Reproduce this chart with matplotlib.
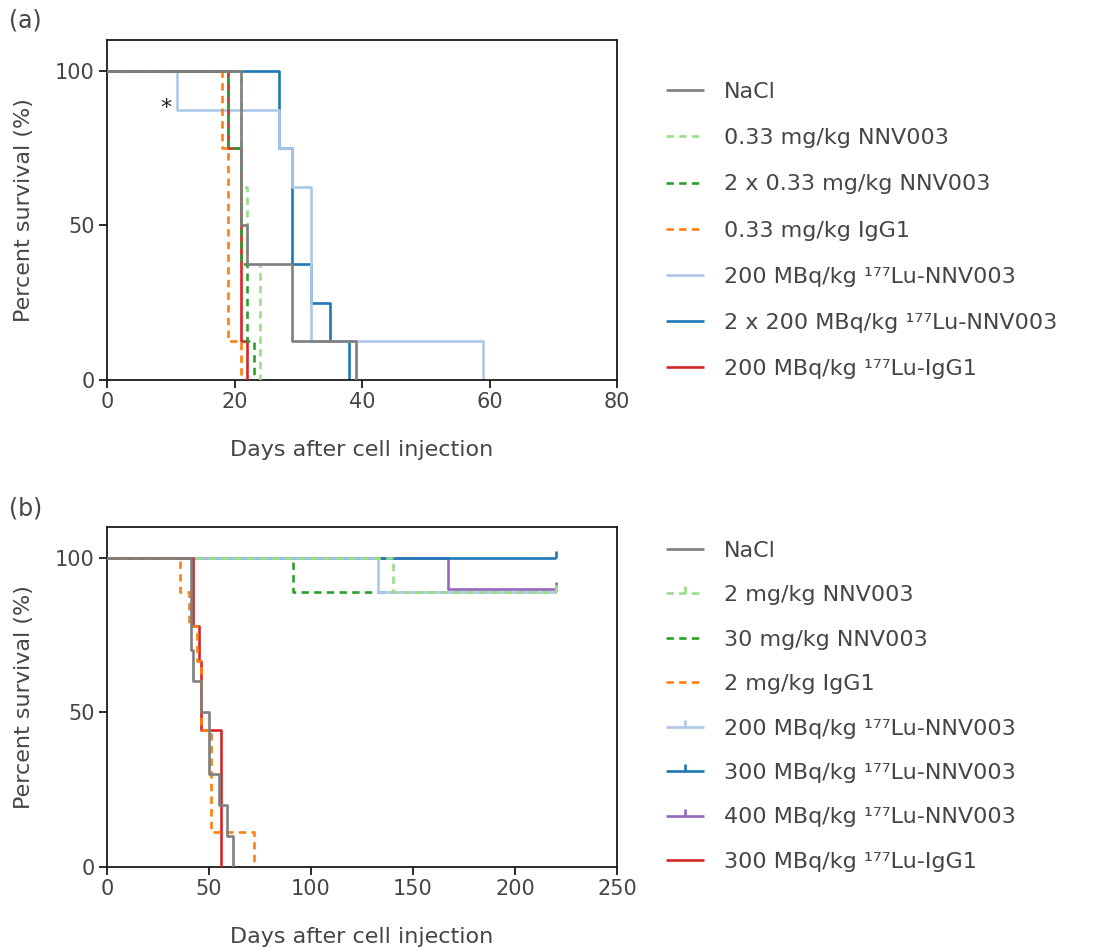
import matplotlib.pyplot as plt

plt.rcParams['font.family'] = ['DejaVu Sans']

TEXT = '#454545'
LU = '\u00b9\u2077\u2077Lu'

# (a) groups: event days and survival (%) after each event
a_labels = ['NaCl', '0.33 mg/kg NNV003', '2 x 0.33 mg/kg NNV003', '0.33 mg/kg IgG1',
            '200 MBq/kg ' + LU + '-NNV003', '2 x 200 MBq/kg ' + LU + '-NNV003',
            '200 MBq/kg ' + LU + '-IgG1']
a_days = [[0, 21, 22, 29, 39],
          [0, 21, 22, 24],
          [0, 19, 21, 22, 23],
          [0, 18, 19, 21],
          [0, 11, 27, 29, 32, 59],
          [0, 27, 29, 32, 35, 38],
          [0, 19, 21, 22]]
a_surv = [[100, 50, 37.5, 12.5, 0],
          [100, 62.5, 37.5, 0],
          [100, 75, 37.5, 12.5, 0],
          [100, 75, 12.5, 0],
          [100, 87.5, 75, 62.5, 12.5, 0],
          [100, 75, 37.5, 25, 12.5, 0],
          [100, 75, 12.5, 0]]

# (b) groups
b_labels = ['NaCl', '2 mg/kg NNV003', '30 mg/kg NNV003', '2 mg/kg IgG1',
            '200 MBq/kg ' + LU + '-NNV003', '300 MBq/kg ' + LU + '-NNV003',
            '400 MBq/kg ' + LU + '-NNV003', '300 MBq/kg ' + LU + '-IgG1']
b_days = [[0, 41, 42, 46, 50, 55, 59, 62],
          [0, 140, 220],
          [0, 91, 220],
          [0, 36, 40, 44, 46, 51, 72],
          [0, 133, 220],
          [0, 220],
          [0, 167, 220],
          [0, 42, 45, 46, 56]]
b_surv = [[100, 70, 60, 50, 30, 20, 10, 0],
          [100, 88.9, 88.9],
          [100, 88.9, 88.9],
          [100, 88.9, 77.8, 66.7, 44.4, 11.1, 0],
          [100, 88.9, 88.9],
          [100, 100],
          [100, 90, 90],
          [100, 77.8, 66.7, 44.4, 0]]
b_censored = [False, True, False, False, True, True, True, False]

GRAY = '#7f7f7f'
LGREEN = '#98df8a'
DGREEN = '#2ca02c'
ORANGE = '#ff7f0e'
LBLUE = '#aec7e8'
DBLUE = '#1f77b4'
PURPLE = '#9467bd'
RED = '#d62728'

# (colour, linestyle, zorder)
a_style = [(GRAY, '-', 10), (LGREEN, '--', 5), (DGREEN, '--', 6), (ORANGE, '--', 4),
           (LBLUE, '-', 2), (DBLUE, '-', 1), (RED, '-', 3)]
b_style = [(GRAY, '-', 10), (LGREEN, '--', 5), (DGREEN, '--', 3), (ORANGE, '--', 7),
           (LBLUE, '-', 4), (DBLUE, '-', 2), (PURPLE, '-', 1), (RED, '-', 6)]

LW = 1.9
DASH = (2.8, 2.0)


def style_axes(ax, xlim, xticks):
    ax.set_xlim(*xlim)
    ax.set_ylim(0, 110)
    ax.set_xticks(xticks)
    ax.set_yticks([0, 50, 100])
    for s in ax.spines.values():
        s.set_linewidth(1.3)
        s.set_color('#1a1a1a')
    ax.tick_params(direction='out', length=6, width=1.3, labelsize=15,
                   labelcolor=TEXT, color='#1a1a1a', pad=3)
    ax.set_xlabel('Days after cell injection', fontsize=16, color=TEXT, labelpad=20)
    ax.set_ylabel('Percent survival (%)', fontsize=16, color=TEXT, labelpad=15)


def draw(ax, days, surv, labels, styles, censored=None):
    for i, (d, s, lab, (c, ls, z)) in enumerate(zip(days, surv, labels, styles)):
        kw = dict(color=c, lw=LW, zorder=z, label=lab, solid_capstyle='butt')
        if ls == '--':
            kw['dashes'] = DASH
        if censored is not None and censored[i]:
            kw.update(marker=2, markevery=[len(d) - 1], markersize=5,
                      markeredgewidth=LW, markeredgecolor=c)
        ax.step(d, s, where='post', **kw)


fig = plt.figure(figsize=(11.18, 9.52), dpi=100)
ax1 = fig.add_axes([0.0957, 0.601, 0.4562, 0.357])
ax2 = fig.add_axes([0.0957, 0.0896, 0.4562, 0.357])

draw(ax1, a_days, a_surv, a_labels, a_style)
style_axes(ax1, (0, 80), [0, 20, 40, 60, 80])
ax1.text(9.3, 88, '*', fontsize=16, color='#222222', ha='center', va='center')

draw(ax2, b_days, b_surv, b_labels, b_style, b_censored)
style_axes(ax2, (0, 250), [0, 50, 100, 150, 200, 250])

for ax, anchor, sp in [(ax1, (0.578, 0.935), 1.18), (ax2, (0.578, 0.453), 1.1)]:
    h, l = ax.get_legend_handles_labels()
    leg = ax.legend(h, l, loc='upper left', bbox_to_anchor=anchor,
                    bbox_transform=fig.transFigure, frameon=False, fontsize=16,
                    handlelength=1.7, handletextpad=0.9, labelspacing=sp,
                    numpoints=1)
    for t in leg.get_texts():
        t.set_color(TEXT)

fig.text(0.008, 0.978, '(a)', fontsize=17, color=TEXT, va='center')
fig.text(0.008, 0.466, '(b)', fontsize=17, color=TEXT, va='center')

fig.savefig('out.png', dpi=100)
